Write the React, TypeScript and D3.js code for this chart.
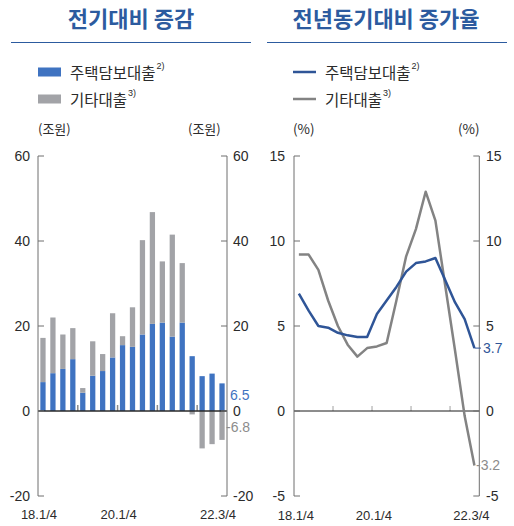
import React from "react";
import * as d3 from "d3";

const quarters = ["18.1/4","18.2/4","18.3/4","18.4/4","19.1/4","19.2/4","19.3/4","19.4/4","20.1/4","20.2/4","20.3/4","20.4/4","21.1/4","21.2/4","21.3/4","21.4/4","22.1/4","22.2/4","22.3/4"];
const xTickLabels = ["18.1/4", "20.1/4", "22.3/4"];
const yearStarts = ["19.1/4", "20.1/4", "21.1/4", "22.1/4"];

// 전기대비 증감 (조원)
const housingChange = [6.8, 8.9, 9.9, 12.2, 4.3, 8.3, 9.4, 12.6, 15.5, 15.1, 18.0, 20.5, 20.8, 17.5, 20.8, 12.9, 8.2, 8.8, 6.5];
const otherChange = [10.4, 13.1, 8.1, 7.3, 1.1, 8.1, 4.0, 10.4, 2.1, 9.3, 22.2, 26.3, 14.4, 24.0, 14.0, -0.8, -8.8, -7.8, -6.8];
const leftTicks = [-20, 0, 20, 40, 60];

// 전년동기대비 증가율 (%)
const housingGrowth = [6.9, 5.9, 5.0, 4.9, 4.6, 4.45, 4.35, 4.35, 5.7, 6.5, 7.3, 8.2, 8.7, 8.8, 9.0, 7.7, 6.4, 5.4, 3.7];
const otherGrowth = [9.2, 9.2, 8.3, 6.5, 5.0, 3.9, 3.2, 3.7, 3.8, 4.0, 6.5, 9.1, 10.7, 12.9, 11.2, 7.4, 3.6, -0.3, -3.2];
const rightTicks = [-5, 0, 5, 10, 15];

const seriesNames = ["주택담보대출", "기타대출"];
const seriesNotes = ["2)", "3)"];

const BAR_BLUE = "#3f73c1";
const BAR_GRAY = "#a2a3a7";
const LINE_BLUE = "#2f5597";
const LINE_GRAY = "#838383";
const TITLE_BLUE = "#2c5b9f";
const TXT = "#2b2b2b";
const KR = "'Noto Sans CJK KR', 'Noto Sans', sans-serif";
const NUM = "'Liberation Sans', Arial, sans-serif";

export default function App() {
  // left chart scales
  const xL = d3.scaleBand<string>().domain(quarters).range([38, 227]).paddingInner(0.47).paddingOuter(0.235);
  const yL = d3.scaleLinear().domain([-20, 60]).range([496, 156]);
  const xLc = (q: string) => (xL(q) as number) + xL.bandwidth() / 2;
  const stepL = xL.step();

  // right chart scales
  const xR = d3.scalePoint<string>().domain(quarters).range([294, 479.3]).padding(0.5);
  const yR = d3.scaleLinear().domain([-5, 15]).range([496, 156]);
  const stepR = xR.step();

  const lineGen = (vals: number[]) =>
    d3.line<number>().x((_, i) => xR(quarters[i]) as number).y((v) => yR(v))(vals) as string;

  const last = quarters.length - 1;

  const legendText = (x: number, i: number) => (
    <text x={x} y={0} dominantBaseline="central" fontFamily={KR} fontSize={15.5} fill={TXT}>
      {seriesNames[i]}
      <tspan fontFamily={NUM} fontSize={9} dx={1} dy={-6}>{seriesNotes[i]}</tspan>
    </text>
  );

  return (
    <svg width={514} height={526} style={{ position: "absolute", left: 0, top: 0, background: "#fff" }}>
      {/* titles */}
      <text x={131} y={17} textAnchor="middle" dominantBaseline="central" fontFamily={KR} fontWeight={700} fontSize={22} fill={TITLE_BLUE}>전기대비 증감</text>
      <line x1={11} x2={251} y1={42.5} y2={42.5} stroke={TITLE_BLUE} strokeWidth={1.2} />
      <text x={386} y={17} textAnchor="middle" dominantBaseline="central" fontFamily={KR} fontWeight={700} fontSize={22} fill={TITLE_BLUE}>전년동기대비 증가율</text>
      <line x1={267} x2={507} y1={42.5} y2={42.5} stroke={TITLE_BLUE} strokeWidth={1.2} />

      {/* left legend */}
      {seriesNames.map((n, i) => (
        <g key={"ll" + i} transform={`translate(0,${72 + i * 27})`}>
          <rect x={38} y={-4.5} width={23} height={9} fill={i === 0 ? BAR_BLUE : BAR_GRAY} />
          {legendText(70, i)}
        </g>
      ))}
      {/* right legend */}
      {seriesNames.map((n, i) => (
        <g key={"rl" + i} transform={`translate(0,${72 + i * 27})`}>
          <line x1={293} x2={316} y1={0} y2={0} stroke={i === 0 ? LINE_BLUE : LINE_GRAY} strokeWidth={2.5} />
          {legendText(325, i)}
        </g>
      ))}

      {/* unit labels */}
      <text x={38} y={128} dominantBaseline="central" fontFamily={KR} fontSize={13} fill={TXT}>(조원)</text>
      <text x={188} y={128} dominantBaseline="central" fontFamily={KR} fontSize={13} fill={TXT}>(조원)</text>
      <text x={293} y={128} dominantBaseline="central" fontFamily={KR} fontSize={13.5} fill={TXT}>(%)</text>
      <text x={458} y={128} dominantBaseline="central" fontFamily={KR} fontSize={13.5} fill={TXT}>(%)</text>

      {/* ===== LEFT CHART ===== */}
      {quarters.map((q, i) => {
        const h = housingChange[i];
        const o = otherChange[i];
        const x = xL(q) as number;
        const w = xL.bandwidth();
        return (
          <g key={"bar" + i}>
            <rect x={x} y={yL(h)} width={w} height={yL(0) - yL(h)} fill={BAR_BLUE} />
            {o >= 0 ? (
              <rect x={x} y={yL(h + o)} width={w} height={yL(h) - yL(h + o)} fill={BAR_GRAY} />
            ) : (
              <rect x={x} y={yL(0)} width={w} height={yL(o) - yL(0)} fill={BAR_GRAY} />
            )}
          </g>
        );
      })}
      {/* year markers on zero line */}
      {yearStarts.map((q) => {
        const x = (xL(q) as number) - (stepL - xL.bandwidth()) / 2;
        return <line key={"ym" + q} x1={x} x2={x} y1={yL(0)} y2={yL(0) - 6} stroke="#8a8a8a" strokeWidth={1.5} />;
      })}
      <line x1={38} x2={227} y1={yL(0)} y2={yL(0)} stroke="#2a2a2a" strokeWidth={1.3} />
      {/* axes */}
      <line x1={38} x2={38} y1={yL(60)} y2={yL(-20)} stroke="#6e6e6e" strokeWidth={1} />
      <line x1={227} x2={227} y1={yL(60)} y2={yL(-20)} stroke="#6e6e6e" strokeWidth={1} />
      {leftTicks.map((t) => (
        <g key={"lt" + t}>
          <line x1={38} x2={44} y1={yL(t)} y2={yL(t)} stroke="#6e6e6e" />
          <line x1={221} x2={227} y1={yL(t)} y2={yL(t)} stroke="#6e6e6e" />
          <text x={30} y={yL(t)} textAnchor="end" dominantBaseline="central" fontFamily={NUM} fontSize={14} fill={TXT}>{t}</text>
          <text x={233} y={yL(t)} dominantBaseline="central" fontFamily={NUM} fontSize={14} fill={TXT}>{t}</text>
        </g>
      ))}
      <text x={230} y={yL(housingChange[last]) + 12} dominantBaseline="central" fontFamily={NUM} fontSize={14} fill={BAR_BLUE}>{housingChange[last]}</text>
      <text x={226} y={yL(otherChange[last]) - 13} dominantBaseline="central" fontFamily={NUM} fontSize={14} fill="#8c8c8c">{otherChange[last]}</text>
      {xTickLabels.map((q) => (
        <text key={"lx" + q} x={xLc(q) - 4} y={514} textAnchor="middle" dominantBaseline="central" fontFamily={NUM} fontSize={13} fill={TXT}>{q}</text>
      ))}

      {/* ===== RIGHT CHART ===== */}
      {yearStarts.map((q) => {
        const x = (xR(q) as number) - stepR / 2;
        return <line key={"rym" + q} x1={x} x2={x} y1={yR(0)} y2={yR(0) - 5} stroke="#b0b0b0" strokeWidth={1.2} />;
      })}
      <line x1={294} x2={479.3} y1={yR(0)} y2={yR(0)} stroke="#1a1a1a" strokeWidth={1} />
      <line x1={294} x2={294} y1={yR(15)} y2={yR(-5)} stroke="#6e6e6e" strokeWidth={1} />
      <line x1={479.3} x2={479.3} y1={yR(15)} y2={yR(-5)} stroke="#6e6e6e" strokeWidth={1} />
      {rightTicks.map((t) => (
        <g key={"rt" + t}>
          <line x1={294} x2={300} y1={yR(t)} y2={yR(t)} stroke="#6e6e6e" />
          <line x1={473.3} x2={479.3} y1={yR(t)} y2={yR(t)} stroke="#6e6e6e" />
          <text x={285} y={yR(t)} textAnchor="end" dominantBaseline="central" fontFamily={NUM} fontSize={14} fill={TXT}>{t}</text>
          <text x={486} y={yR(t)} dominantBaseline="central" fontFamily={NUM} fontSize={14} fill={TXT}>{t}</text>
        </g>
      ))}
      <path d={lineGen(otherGrowth)} fill="none" stroke={LINE_GRAY} strokeWidth={2.5} strokeLinejoin="round" />
      <path d={lineGen(housingGrowth)} fill="none" stroke={LINE_BLUE} strokeWidth={2.5} strokeLinejoin="round" />
      <line x1={xR(quarters[last]) as number} x2={481} y1={yR(housingGrowth[last])} y2={yR(housingGrowth[last])} stroke={LINE_BLUE} strokeWidth={1} />
      <text x={483} y={yR(housingGrowth[last])} dominantBaseline="central" fontFamily={NUM} fontSize={14} fill={LINE_BLUE}>{housingGrowth[last]}</text>
      <text x={476} y={yR(otherGrowth[last])} dominantBaseline="central" fontFamily={NUM} fontSize={14} fill="#8c8c8c">{otherGrowth[last]}</text>
      {xTickLabels.map((q) => (
        <text key={"rx" + q} x={(xR(q) as number) - 3} y={515} textAnchor="middle" dominantBaseline="central" fontFamily={NUM} fontSize={13} fill={TXT}>{q}</text>
      ))}
    </svg>
  );
}
